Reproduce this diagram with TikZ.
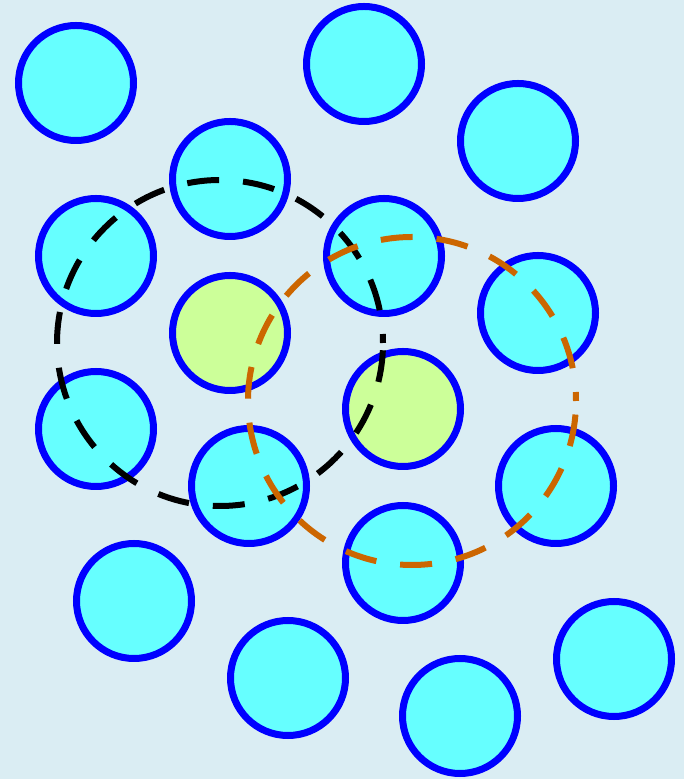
\documentclass[tikz,border=0pt]{standalone}
\definecolor{bgc}{RGB}{218,237,243}
\definecolor{ballc}{RGB}{102,255,255}
\definecolor{greenc}{RGB}{204,255,153}
\definecolor{rimc}{RGB}{0,0,255}
\definecolor{orangec}{RGB}{204,102,0}
\begin{document}
\begin{tikzpicture}[x=1pt,y=1pt,
  ball/.style={circle,draw=rimc,line width=7pt,fill=ballc,minimum size=115pt,inner sep=0pt},
  gball/.style={ball,fill=greenc},
  ring/.style={line width=6pt,dash pattern=on 32pt off 24pt,dash phase=23pt}]
\fill[bgc] (0,0) rectangle (684,779);
\useasboundingbox (0,0) rectangle (684,779);
\node[ball] (b1) at (76,696) {};
\node[ball] (b2) at (364,715) {};
\node[ball] (b3) at (518,638) {};
\node[ball] (b4) at (230,600) {};
\node[ball] (b5) at (96,523) {};
\node[ball] (b6) at (384,523) {};
\node[ball] (b7) at (538,466) {};
\node[gball] (b8) at (230,446) {};
\node[gball] (b9) at (403,370) {};
\node[ball] (b10) at (96,350) {};
\node[ball] (b11) at (249,293) {};
\node[ball] (b12) at (556,293) {};
\node[ball] (b13) at (403,216) {};
\node[ball] (b14) at (134,178) {};
\node[ball] (b15) at (288,101) {};
\node[ball] (b16) at (614,120) {};
\node[ball] (b17) at (460,63) {};
\coordinate (cb) at (220,436);
\coordinate (co) at (412,378);
\draw[ring,black] (cb) circle (163pt);
\draw[ring,orangec] (co) circle (164pt);
\end{tikzpicture}
\end{document}
